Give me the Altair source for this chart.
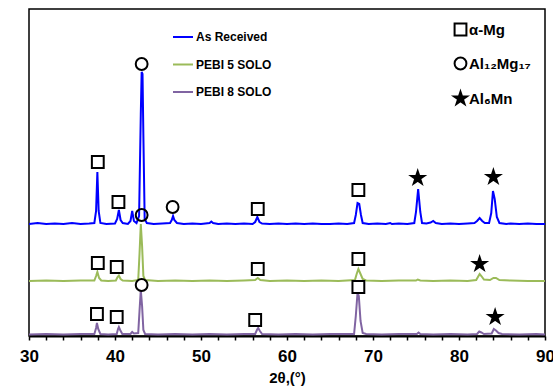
import altair as alt
import pandas as pd

# ---------------- data ----------------
series_names = ["As Received", "PEBI 5 SOLO", "PEBI 8 SOLO"]
series_colors = ["#0000FF", "#9BBB59", "#8064A2"]

as_received_2theta = [30.0, 31.0, 32.0, 33.0, 34.0, 35.0, 36.0, 37.0, 37.6,
                      37.8, 37.95, 38.1, 38.3,
                      39.0, 40.0, 40.25, 40.45, 40.65, 40.9,
                      41.5, 41.8, 42.0, 42.2, 42.5,
                      42.8, 43.0, 43.1, 43.2, 43.3, 43.45, 43.7,
                      44.5, 45.5, 46.4, 46.6, 46.75, 46.9, 47.2,
                      48.0, 49.0, 50.0, 51.0, 51.2, 51.4, 52.0, 53.0, 54.0, 55.0, 56.0,
                      56.3, 56.55, 56.8, 57.1,
                      58.0, 59.0, 60.0, 61.0, 62.0, 63.0, 64.0, 65.0, 66.0, 67.0, 67.8,
                      68.0, 68.2, 68.4, 68.6, 68.8,
                      69.5, 70.5, 71.5, 72.0, 72.2, 73.0, 74.0, 74.8,
                      75.0, 75.25, 75.5, 75.7, 76.2, 76.7, 77.0, 77.3,
                      78.0, 79.0, 80.0, 81.0, 81.8, 82.1, 82.4, 82.7, 83.0, 83.5,
                      83.75, 83.95, 84.15, 84.4, 84.7,
                      85.5, 86.0, 87.0, 88.0, 89.0, 90.0]
as_received_int = [112, 113, 112, 112.5, 112, 113, 112, 112.5, 113,
                   125, 164, 125, 113,
                   112, 112.5, 117, 126, 116, 113,
                   112, 115, 125, 115, 113,
                   120, 222, 264, 262, 200, 117, 113,
                   112, 112.5, 113, 116, 120, 116, 113,
                   112, 112.5, 112, 113, 114.5, 113, 112, 112.5, 112, 112.5, 112,
                   114, 119, 114, 112.5,
                   112, 112.5, 112, 112.5, 112, 112.5, 112, 112, 112.5, 112, 113,
                   121, 133, 132, 121, 113,
                   112, 112.5, 112, 113, 112, 112.5, 112, 113,
                   124, 147, 124, 113, 112.5, 113.5, 115, 113,
                   112, 112.5, 112, 112.5, 113, 115, 118, 115, 113, 113,
                   123, 145, 137, 119, 113,
                   112, 112.5, 112, 112.5, 112, 112]

pebi5_2theta = [30.0, 32.0, 34.0, 36.0, 37.6, 37.8, 37.95, 38.15, 38.4,
                39.2, 40.1, 40.3, 40.45, 40.65, 40.9,
                42.0, 42.7, 42.85, 43.0, 43.15, 43.3, 43.5,
                45.0, 47.0, 49.0, 51.0, 53.0, 55.0, 56.3, 56.6, 56.9,
                58.0, 60.0, 62.0, 64.0, 66.0, 67.9, 68.1, 68.3, 68.5, 68.8, 69.2,
                71.0, 73.0, 75.0, 75.2, 75.5, 77.0, 79.0, 81.0, 82.0, 82.2, 82.4, 82.6, 82.9,
                83.6, 84.0, 84.3, 84.7, 86.0, 88.0, 90.0]
pebi5_int = [55, 55.5, 55, 55.5, 55.5, 60, 64, 58, 55.5,
             55, 55.5, 59, 60.5, 57, 55.5,
             55, 56, 82, 112, 90, 60, 56,
             55, 55.5, 55, 55.5, 55, 55.5, 56, 58, 56,
             55, 55.5, 55, 55.5, 55, 56, 62, 67, 63, 57, 55.5,
             55, 55.5, 55.5, 56.5, 55.5, 55, 55.5, 55, 56, 59, 62, 60, 56.5,
             56, 58, 58, 56, 55.5, 55, 55]

pebi8_2theta = [30.0, 32.0, 34.0, 36.0, 37.6, 37.8, 37.9, 38.05, 38.3,
                39.2, 40.2, 40.35, 40.45, 40.6, 40.85,
                41.8, 42.0, 42.2, 42.7, 42.85, 43.0, 43.15, 43.3, 43.5,
                45.0, 47.0, 49.0, 51.0, 53.0, 55.0, 56.3, 56.5, 56.65, 56.85, 57.1,
                59.0, 61.0, 63.0, 65.0, 67.8, 68.0, 68.2, 68.35, 68.55, 68.8, 69.2,
                71.0, 73.0, 75.1, 75.3, 75.5, 77.0, 79.0, 81.0, 82.1, 82.35, 82.6, 82.9,
                83.8, 84.05, 84.3, 84.6, 85.0, 87.0, 89.0, 90.0]
pebi8_int = [1.5, 2, 1.5, 2, 2, 8, 13, 7, 2,
             1.5, 2, 7, 9, 6, 2,
             2, 4, 2.5, 3, 25, 46, 30, 6, 2,
             1.5, 2, 1.5, 2, 1.5, 2, 2, 6, 8, 5, 2,
             1.5, 2, 1.5, 2, 2, 20, 43, 40, 15, 3, 2,
             1.5, 2, 2, 3.5, 2, 1.5, 2, 1.5, 2, 4.5, 3.5, 2,
             2.5, 7, 5.5, 3, 2, 1.5, 2, 1.5]

phase_names = ["α-Mg", "Al₁₂Mg₁₇", "Al₆Mn"]
STAR_PATH = ("M0,-1.15L0.258,-0.355L1.094,-0.355L0.417,0.136L0.676,0.930"
             "L0,0.439L-0.676,0.930L-0.417,0.136L-1.094,-0.355L-0.258,-0.355Z")
phase_shapes = ["square", "circle", STAR_PATH]
phase_fills = ["transparent", "transparent", "black"]
phase_strokes = ["black", "black", "black"]

marker_2theta = [38.0, 40.4, 43.1, 46.7, 43.1, 56.6, 68.3, 75.2, 84.0,
                 38.0, 40.2, 56.6, 68.3, 82.4,
                 37.9, 40.2, 43.1, 56.3, 68.3, 84.2]
marker_int = [174, 134, 272, 129, 121, 127, 146, 158, 159,
              73, 69, 67, 77, 72,
              22, 19, 51, 16, 49, 19]
marker_phase = ["α-Mg", "α-Mg", "Al₁₂Mg₁₇", "Al₁₂Mg₁₇", "Al₁₂Mg₁₇", "α-Mg", "α-Mg", "Al₆Mn", "Al₆Mn",
                "α-Mg", "α-Mg", "α-Mg", "α-Mg", "Al₆Mn",
                "α-Mg", "α-Mg", "Al₁₂Mg₁₇", "α-Mg", "α-Mg", "Al₆Mn"]

x_major_ticks = [30, 40, 50, 60, 70, 80, 90]
x_minor_ticks = [32, 34, 36, 38, 42, 44, 46, 48, 52, 54, 56, 58,
                 62, 64, 66, 68, 72, 74, 76, 78, 82, 84, 86, 88]

# ---------------- tables ----------------
rows = []
for name, xs, ys in [(series_names[0], as_received_2theta, as_received_int),
                     (series_names[1], pebi5_2theta, pebi5_int),
                     (series_names[2], pebi8_2theta, pebi8_int)]:
    for a, b in zip(xs, ys):
        rows.append({"two_theta": a, "intensity": b, "series": name})
trace_df = pd.DataFrame(rows)

marker_df = pd.DataFrame({"two_theta": marker_2theta, "intensity": marker_int,
                          "phase": marker_phase})

FONT = "Liberation Sans"
x_scale = alt.Scale(domain=[30, 90], nice=False, zero=False)
y_scale = alt.Scale(domain=[0, 327], nice=False, zero=False)

x_major = alt.X("two_theta:Q", scale=x_scale,
                axis=alt.Axis(title="2θ,(°)", orient="bottom", values=x_major_ticks,
                              format="d", grid=False,
                              domainColor="black", domainWidth=2,
                              tickColor="black", tickWidth=1.5, tickSize=4,
                              labelFontSize=17, labelFontWeight="bold", labelColor="black",
                              labelPadding=8, labelFlush=False, labelOverlap=False,
                              titleFontSize=15, titleFontWeight="bold", titleColor="black",
                              titlePadding=6))
x_minor = alt.X("two_theta:Q", scale=x_scale,
                axis=alt.Axis(title=None, orient="bottom", values=x_minor_ticks,
                              labels=False, domain=False, grid=False,
                              tickColor="black", tickWidth=1.5, tickSize=4))
y_enc = alt.Y("intensity:Q", scale=y_scale,
              axis=alt.Axis(title="Intensity(arb.units)", labels=False, ticks=False,
                            grid=False, domainColor="black", domainWidth=2,
                            titleFontSize=16, titleFontWeight="bold", titleColor="black",
                            titlePadding=3))

lines = alt.Chart(trace_df).mark_line(strokeWidth=2, clip=True).encode(
    x=x_major,
    y=y_enc,
    color=alt.Color("series:N",
                    scale=alt.Scale(domain=series_names, range=series_colors),
                    legend=alt.Legend(title=None, orient="none", legendX=143, legendY=17,
                                      symbolType="stroke", symbolSize=400,
                                      symbolStrokeWidth=2, padding=0,
                                      labelFontSize=12, labelFontWeight="bold",
                                      labelColor="black", labelOffset=2,
                                      rowPadding=10.5)),
)

phase_legend = alt.Legend(title=None, orient="none", legendX=424, legendY=13,
                          symbolSize=140, symbolStrokeWidth=2,
                          symbolStrokeColor="black", padding=0,
                          labelFontSize=15, labelFontWeight="bold",
                          labelColor="black", labelOffset=1, rowPadding=13)

markers = alt.Chart(marker_df).mark_point(size=140, strokeWidth=2, opacity=1).encode(
    x=x_minor,
    y=alt.Y("intensity:Q", scale=y_scale, axis=None),
    shape=alt.Shape("phase:N", scale=alt.Scale(domain=phase_names, range=phase_shapes),
                    legend=phase_legend),
    fill=alt.Fill("phase:N", scale=alt.Scale(domain=phase_names, range=phase_fills),
                  legend=phase_legend),
    stroke=alt.Stroke("phase:N", scale=alt.Scale(domain=phase_names, range=phase_strokes),
                      legend=phase_legend),
)

chart = alt.layer(lines, markers).resolve_axis(x="independent").properties(
    width=516, height=327,
    autosize=alt.AutoSizeParams(type="none"),
    padding={"left": 29, "top": 9, "right": 8, "bottom": 51},
    background="white",
).configure(font=FONT).configure_view(
    stroke="black", strokeWidth=1.5
)

chart.save("out.html", embed_options={"renderer": "svg", "actions": False})
